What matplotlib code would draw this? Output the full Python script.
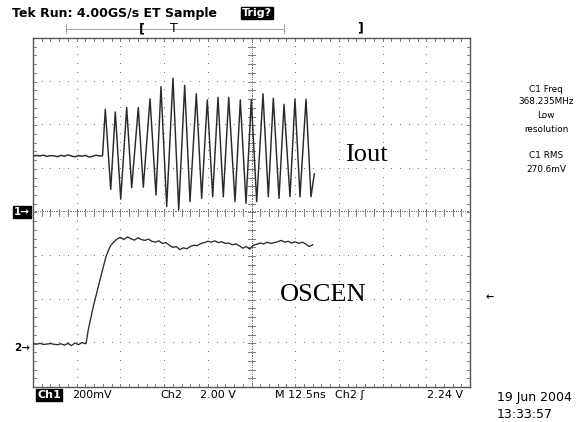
import matplotlib
matplotlib.use("Agg")
import matplotlib.pyplot as plt
import numpy as np

# Ch1 (Iout): time in ns from left edge of screen, value in mV (200 mV/div, ground at centre)
ch1_flat_t = [0, 1, 2, 3, 4, 5, 6, 7, 8, 9, 10, 11, 12, 13, 14, 15, 16, 17, 18, 19, 19.9]
ch1_flat_v = [258, 262, 259, 263, 257, 261, 260, 256, 262, 258, 264, 259, 255, 261, 258,
              262, 254, 257, 263, 259, 260]
ch1_peak_t = [20.68, 23.54, 26.80, 30.12, 33.47, 36.61, 40.04, 43.39, 46.71, 49.86,
              52.92, 55.98, 59.30, 62.44, 65.79, 68.74, 71.80, 74.94, 78.09]
ch1_peak_v = [473, 461, 481, 481, 521, 577, 616, 583, 544, 516,
              528, 528, 516, 516, 544, 524, 496, 519, 519]
ch1_trough_t = [22.23, 25.09, 28.23, 31.55, 35.18, 38.24, 41.68, 44.91, 48.25, 51.40,
                54.43, 57.78, 60.93, 63.99, 67.31, 70.37, 73.51, 76.37, 79.52]
ch1_trough_v = [106, 61, 114, 116, 80, 27, 11, 50, 65, 72,
                72, 50, 42, 50, 72, 65, 72, 72, 72]
ch1_end_t = [80.46]
ch1_end_v = [177]

# Ch2 (OSCEN): time in ns, value in V (2.00 V/div)
ch2_t = [0, 1, 2, 3, 4, 5, 6, 7, 8, 9, 10, 11, 12, 13, 14, 15, 15.2,
         15.8, 17.25, 19.16, 20.88, 22.03, 23.0,
         24, 25, 26, 27, 28, 29, 30, 31, 32, 33, 34, 35, 36, 37, 38, 39, 40, 41, 42, 43,
         44, 45, 46, 47, 48, 49, 50, 51, 52, 53, 54, 55, 56, 57, 58, 59, 60, 61, 62, 63,
         64, 65, 66, 67, 68, 69, 70, 71, 72, 73, 74, 75, 76, 77, 78, 79, 80]
ch2_v = [0.20, 0.18, 0.22, 0.17, 0.19, 0.21, 0.18, 0.16, 0.20, 0.14, 0.22, 0.12, 0.24,
         0.16, 0.26, 0.20, 0.23,
         0.84, 1.91, 3.13, 4.20, 4.66, 4.85,
         5.00, 5.08, 4.98, 5.10, 5.02, 4.95, 5.06, 4.98, 4.94, 5.00, 4.90, 4.86, 4.92,
         4.80, 4.84, 4.72, 4.62, 4.66, 4.52, 4.60, 4.56, 4.66, 4.72, 4.70, 4.80, 4.84,
         4.90, 4.86, 4.92, 4.84, 4.88, 4.80, 4.82, 4.74, 4.78, 4.70, 4.58, 4.66, 4.54,
         4.72, 4.76, 4.82, 4.78, 4.86, 4.80, 4.84, 4.88, 4.94, 4.86, 4.90, 4.82, 4.88,
         4.80, 4.86, 4.78, 4.66, 4.74]

# screen settings
ch1_scale_mV = 200.0     # per division
ch2_scale_V = 2.0        # per division
time_scale_ns = 12.5     # per division
ch1_ground_div = 4.0     # divisions from bottom
ch2_ground_div = 0.89

# ---------------- figure ----------------
W, H = 576, 422
fig = plt.figure(figsize=(W / 100, H / 100), dpi=100)
fig.patch.set_facecolor("white")

L, R, T, B = 33, 470, 38, 387
ax = fig.add_axes([L / W, 1 - B / H, (R - L) / W, (B - T) / H])
ax.set_xlim(0, 10 * time_scale_ns)
ax.set_ylim(-ch1_ground_div * ch1_scale_mV, (8 - ch1_ground_div) * ch1_scale_mV)
ax.set_xticks([]); ax.set_yticks([])
for s in ax.spines.values():
    s.set_color("#555555"); s.set_linewidth(1.0)

ax2 = ax.twinx()
ax2.set_ylim(-ch2_ground_div * ch2_scale_V, (8 - ch2_ground_div) * ch2_scale_V)
ax2.set_yticks([])
for s in ax2.spines.values():
    s.set_visible(False)

# graticule (axes fraction coords)
gcol = "#7a7a7a"
tr = ax.transAxes
for i in range(1, 10):
    x = i / 10
    ys = np.arange(0, 41) / 40
    ax.plot([x] * len(ys), ys, ls="none", marker=",", color=gcol, transform=tr)
for j in range(1, 8):
    y = j / 8
    xs = np.arange(0, 51) / 50
    ax.plot(xs, [y] * len(xs), ls="none", marker=",", color=gcol, transform=tr)
# centre lines: denser dots + ticks
xs = np.arange(0, 251) / 250
ax.plot(xs, [0.5] * len(xs), ls="none", marker=",", color=gcol, transform=tr)
ys = np.arange(0, 201) / 200
ax.plot([0.5] * len(ys), ys, ls="none", marker=",", color=gcol, transform=tr)
tx = 3.5 / (R - L)
ty = 3.5 / (B - T)
for k in range(1, 50):
    x = k / 50
    ax.plot([x, x], [0.5 - ty, 0.5 + ty], color=gcol, lw=0.7, transform=tr)
    ax.plot([x, x], [0, ty * 0.9], color=gcol, lw=0.7, transform=tr)
    ax.plot([x, x], [1, 1 - ty * 0.9], color=gcol, lw=0.7, transform=tr)
for k in range(1, 40):
    y = k / 40
    ax.plot([0.5 - tx, 0.5 + tx], [y, y], color=gcol, lw=0.7, transform=tr)
    ax.plot([0, tx * 0.9], [y, y], color=gcol, lw=0.7, transform=tr)
    ax.plot([1, 1 - tx * 0.9], [y, y], color=gcol, lw=0.7, transform=tr)

# waveforms
osc_t = []
osc_v = []
for pt, pv, tt, tv in zip(ch1_peak_t, ch1_peak_v, ch1_trough_t, ch1_trough_v):
    osc_t += [pt, tt]
    osc_v += [pv, tv]
ch1_t = ch1_flat_t + osc_t + ch1_end_t
ch1_v = ch1_flat_v + osc_v + ch1_end_v
ax.plot(ch1_t, ch1_v, color="#2a2a2a", lw=1.05, solid_joinstyle="round")
ax2.plot(ch2_t, ch2_v, color="#2a2a2a", lw=0.95)

# ---------------- text ----------------
def P(x, y):
    return x / W, 1 - y / H

sans = "DejaVu Sans"
fig.text(*P(12, 13), "Tek Run: 4.00GS/s ET Sample", fontsize=9, fontweight="bold",
         family=sans, va="center", ha="left")
fig.text(*P(242, 13), "Trig?", fontsize=8, fontweight="bold", color="white", family=sans,
         va="center", ha="left",
         bbox=dict(facecolor="black", edgecolor="black", boxstyle="square,pad=0.12"))

# record bar
fig.add_artist(plt.Line2D([66 / W, 284 / W], [1 - 29 / H] * 2, color="#333333",
                          lw=0.6, ls=(0, (1.2, 1.2))))
for xb in (66, 284):
    fig.add_artist(plt.Line2D([xb / W] * 2, [1 - 24 / H, 1 - 34 / H], color="#333333",
                              lw=0.6, ls=(0, (1, 1))))
fig.text(*P(142, 29), "[", fontsize=9, fontweight="bold", family=sans, ha="center", va="center")
fig.text(*P(174, 28), "T", fontsize=9, family=sans, ha="center", va="center")
fig.text(*P(360, 28), "]", fontsize=9, fontweight="bold", family=sans, ha="center", va="center")

# right side readouts
for y, s in [(89, "C1 Freq"), (102, "368.235MHz"), (116, "Low"), (129, "resolution"),
             (155, "C1 RMS"), (169, "270.6mV")]:
    fig.text(*P(546, y), s, fontsize=6.4, family=sans, ha="center", va="center")

# channel markers
fig.text(*P(14, 212), "1\u2192", fontsize=7.5, fontweight="bold", color="white", family=sans,
         ha="left", va="center",
         bbox=dict(facecolor="black", edgecolor="black", boxstyle="square,pad=0.1"))
fig.text(*P(14, 348), "2\u2192", fontsize=7.5, fontweight="bold", family=sans,
         ha="left", va="center")
fig.text(*P(490, 297), "\u2190", fontsize=7, fontweight="bold", family=sans,
         ha="center", va="center")

# labels
serif = "Liberation Serif"
fig.text(*P(345, 155), "Iout", fontsize=19, family=serif, ha="left", va="center")
fig.text(*P(280, 295), "OSCEN", fontsize=19, family=serif, ha="left", va="center")

# bottom status line
fig.text(*P(37, 395), "Ch1", fontsize=8, fontweight="bold", color="white", family=sans,
         ha="left", va="center",
         bbox=dict(facecolor="black", edgecolor="black", boxstyle="square,pad=0.1"))
for x, s in [(72, "200mV"), (160, "Ch2"), (200, "2.00 V"), (275, "M 12.5ns"),
             (335, "Ch2 \u0283"), (427, "2.24 V")]:
    fig.text(*P(x, 395), s, fontsize=8, family=sans, ha="left", va="center")
fig.text(*P(497, 398), "19 Jun 2004", fontsize=9, family=sans, ha="left", va="center")
fig.text(*P(497, 415), "13:33:57", fontsize=9, family=sans, ha="left", va="center")

fig.savefig("out.png", dpi=100, facecolor="white")
